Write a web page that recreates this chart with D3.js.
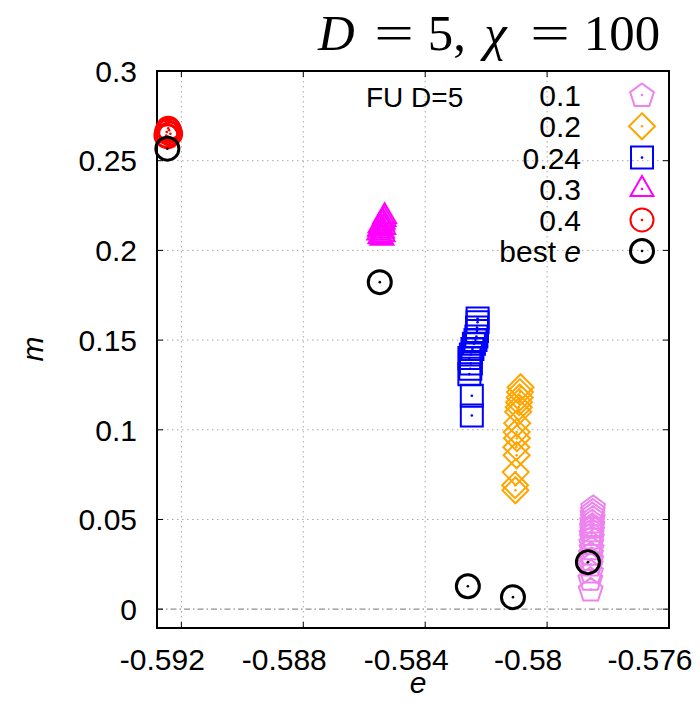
<!DOCTYPE html>
<html><head><meta charset="utf-8">
<script src="https://cdn.jsdelivr.net/npm/d3@7"></script>
<style>body{margin:0;background:#fff}</style>
</head><body>
<svg id="c" width="700" height="720"></svg>
<script>
// ---- data ----
const xTicks = [-0.592, -0.588, -0.584, -0.58, -0.576];
const xTickLabels = ["-0.592", "-0.588", "-0.584", "-0.58", "-0.576"];
const yTicks = [0, 0.05, 0.1, 0.15, 0.2, 0.25, 0.3];
const yTickLabels = ["0", "0.05", "0.1", "0.15", "0.2", "0.25", "0.3"];

const seriesNames = ["0.1", "0.2", "0.24", "0.3", "0.4", "best e"];
const seriesColors = ["#ee82ee", "#ffa500", "#0000ff", "#ff00ff", "#ff0000", "#000000"];
const seriesShapes = ["pentagon", "diamond", "square", "triangle", "circle", "circle"];

const e01 = [-0.57849, -0.57850, -0.57851, -0.57850, -0.57852, -0.57851, -0.57853, -0.57852, -0.57854, -0.57853, -0.57855, -0.57854, -0.57856, -0.57855, -0.57857, -0.57856, -0.57858, -0.57857];
const m01 = [0.057, 0.055, 0.053, 0.051, 0.049, 0.047, 0.046, 0.044, 0.042, 0.040, 0.037, 0.034, 0.031, 0.028, 0.025, 0.021, 0.017, 0.011];

const e02 = [-0.58087, -0.58089, -0.58090, -0.58092, -0.58093, -0.58095, -0.58098, -0.58100, -0.58099, -0.58101, -0.58100, -0.58103, -0.58105, -0.58104];
const m02 = [0.1237, 0.121, 0.118, 0.1154, 0.1126, 0.110, 0.1037, 0.0987, 0.0953, 0.0903, 0.0858, 0.0764, 0.0691, 0.0663];

const e024 = [-0.58247, -0.58247, -0.58255, -0.58252, -0.58250, -0.58255, -0.58250, -0.58245, -0.58240, -0.58235, -0.58232, -0.58230, -0.58230, -0.58228, -0.58228];
const m024 = [0.108, 0.119, 0.131, 0.134, 0.137, 0.140, 0.142, 0.145, 0.148, 0.150, 0.152, 0.155, 0.157, 0.160, 0.162];

const e03 = [-0.58533, -0.58535, -0.58538, -0.58541, -0.58548, -0.58536, -0.58550, -0.58540, -0.58552, -0.58538, -0.58548, -0.58542];
const m03 = [0.2190, 0.2175, 0.2160, 0.2150, 0.2140, 0.2130, 0.2120, 0.2110, 0.2100, 0.2090, 0.2080, 0.2070];

const e04 = [-0.59243, -0.59240, -0.59248, -0.59236, -0.59250, -0.59245];
const m04 = [0.268, 0.267, 0.266, 0.265, 0.264, 0.2635];

const eBest = [-0.59246, -0.58549, -0.58260, -0.58112, -0.57866];
const mBest = [0.2567, 0.1823, 0.0128, 0.0067, 0.0262];

const seriesE = [e01, e02, e024, e03, e04, eBest];
const seriesM = [m01, m02, m024, m03, m04, mBest];

// ---- layout ----
const svg = d3.select("#c");
const L = 157, R = 669, T = 71, B = 628;
const x = d3.scaleLinear().domain([-0.5928, -0.576]).range([L, R]);
const y = d3.scaleLinear().domain([-0.0105, 0.3]).range([B, T]);

function shapePath(shape) {
  if (shape === "pentagon") {
    const r = 12.5, p = [];
    for (let k = 0; k < 5; k++) { const a = (-90 + 72 * k) * Math.PI / 180; p.push([r * Math.cos(a), r * Math.sin(a) + 1]); }
    return "M" + p.map(d => d.join(",")).join("L") + "Z";
  }
  if (shape === "diamond") return "M0,-13L13,0L0,13L-13,0Z";
  if (shape === "square") return "M-11,-11L11,-11L11,11L-11,11Z";
  if (shape === "triangle") return "M0,-13L11.5,7L-11.5,7Z";
  return "M11.5,0A11.5,11.5 0 1,1 -11.5,0A11.5,11.5 0 1,1 11.5,0Z";
}

// grid
const gridG = svg.append("g");
gridG.selectAll("line.vx").data(xTicks.slice(0, 4)).join("line")
  .attr("x1", d => x(d)).attr("x2", d => x(d)).attr("y1", T).attr("y2", B)
  .attr("stroke", "#a8a8a8").attr("stroke-width", 1).attr("stroke-dasharray", "1.5,3.5");
gridG.selectAll("line.hy").data(yTicks.filter(d => d > 0 && d < 0.3)).join("line")
  .attr("x1", L).attr("x2", R).attr("y1", d => y(d)).attr("y2", d => y(d))
  .attr("stroke", "#a8a8a8").attr("stroke-width", 1).attr("stroke-dasharray", "1.5,3.5");
// zero axis
svg.append("line").attr("x1", L).attr("x2", R).attr("y1", y(0)).attr("y2", y(0))
  .attr("stroke", "#909090").attr("stroke-width", 1.2).attr("stroke-dasharray", "6,3,1.5,3");

// ticks (inward)
const tickG = svg.append("g").attr("stroke", "#000").attr("stroke-width", 1);
xTicks.forEach(v => {
  tickG.append("line").attr("x1", x(v)).attr("x2", x(v)).attr("y1", B).attr("y2", B - 6);
  tickG.append("line").attr("x1", x(v)).attr("x2", x(v)).attr("y1", T).attr("y2", T + 6);
});
yTicks.forEach(v => {
  tickG.append("line").attr("x1", L).attr("x2", L + 6).attr("y1", y(v)).attr("y2", y(v));
  tickG.append("line").attr("x1", R).attr("x2", R - 6).attr("y1", y(v)).attr("y2", y(v));
});

// border
svg.append("rect").attr("x", L).attr("y", T).attr("width", R - L).attr("height", B - T)
  .attr("fill", "none").attr("stroke", "#000").attr("stroke-width", 2);

// tick labels
const font = "'Liberation Sans', Arial, sans-serif";
svg.append("g").selectAll("text").data(xTicks).join("text")
  .attr("x", d => x(d) - 19).attr("y", 670).attr("text-anchor", "middle")
  .attr("font-family", font).attr("font-size", 30).text((d, i) => xTickLabels[i]);
svg.append("g").selectAll("text").data(yTicks).join("text")
  .attr("x", 137).attr("y", d => y(d) + 10.8).attr("text-anchor", "end")
  .attr("font-family", font).attr("font-size", 30).text((d, i) => yTickLabels[i]);

// axis labels
svg.append("text").attr("x", 418).attr("y", 693).attr("text-anchor", "middle")
  .attr("font-family", font).attr("font-size", 30).attr("font-style", "italic").text("e");
svg.append("text").attr("transform", "translate(43,349) rotate(-90)").attr("text-anchor", "middle")
  .attr("font-family", font).attr("font-size", 30).attr("font-style", "italic").text("m");

// title (LaTeX-like spacing)
const tf = 50.8, tx0 = 318, tyB = 50;
const serif = "'Liberation Serif', 'Times New Roman', serif";
const titleParts = [
  { t: "D", em: 0, it: true, anchor: "start", sx: 1 },
  { t: "=", em: 1.495, it: false, anchor: "middle", sx: 1.38 },
  { t: "5,", em: 2.162, it: false, anchor: "start", sx: 1 },
  { t: "\u03C7", em: 3.273, it: true, anchor: "start", sx: 1 },
  { t: "=", em: 4.566, it: false, anchor: "middle", sx: 1.38 },
  { t: "100", em: 6.733, it: false, anchor: "end", sx: 1 }
];
svg.append("g").selectAll("text").data(titleParts).join("text")
  .attr("transform", d => `translate(${tx0 + d.em * tf},${tyB}) scale(${d.sx},1)`)
  .attr("text-anchor", d => d.anchor)
  .attr("font-family", serif).attr("font-size", tf)
  .attr("font-style", d => d.it ? "italic" : "normal").text(d => d.t);

// points
seriesNames.forEach((name, si) => {
  const g = svg.append("g");
  const pts = seriesE[si].map((e, i) => [e, seriesM[si][i]]);
  const sw = si === 5 ? 3 : (si === 4 ? 2.5 : 2);
  g.selectAll("path").data(pts).join("path")
    .attr("transform", d => `translate(${x(d[0])},${y(d[1])})`)
    .attr("d", shapePath(seriesShapes[si]))
    .attr("fill", "none").attr("stroke", seriesColors[si]).attr("stroke-width", sw);
  g.selectAll("circle").data(pts).join("circle")
    .attr("cx", d => x(d[0])).attr("cy", d => y(d[1])).attr("r", 1.3)
    .attr("fill", seriesColors[si]);
});

// legend
svg.append("text").attr("x", 366).attr("y", 107).attr("font-family", font).attr("font-size", 28).text("FU D=5");
const legY = [106, 137.3, 168.6, 200, 231, 262];
seriesNames.forEach((name, si) => {
  const t = svg.append("text").attr("x", 581).attr("y", legY[si]).attr("text-anchor", "end")
    .attr("font-family", font).attr("font-size", 30);
  if (name === "best e") {
    t.append("tspan").text("best ");
    t.append("tspan").attr("font-style", "italic").text("e");
  } else t.text(name);
  const cy = legY[si] - 11;
  svg.append("path").attr("transform", `translate(642,${cy})`).attr("d", shapePath(seriesShapes[si]))
    .attr("fill", "none").attr("stroke", seriesColors[si]).attr("stroke-width", si === 5 ? 3 : 2);
  svg.append("circle").attr("cx", 642).attr("cy", cy).attr("r", 1.3).attr("fill", seriesColors[si]);
});
</script></body></html>
